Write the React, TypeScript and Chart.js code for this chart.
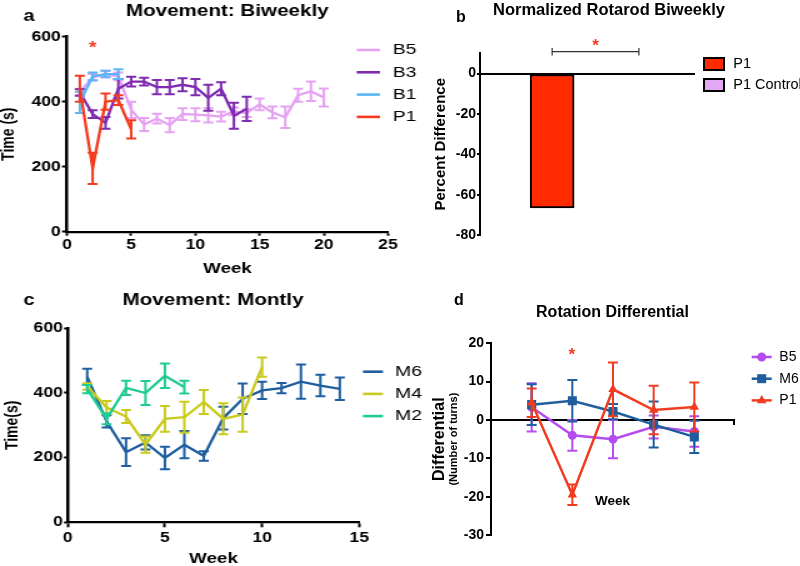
import React, { useEffect, useRef } from "react";
import { Chart, registerables } from "chart.js";
Chart.register(...registerables);

const FONT = "'Liberation Sans', Arial, Helvetica, sans-serif";
Chart.defaults.font.family = FONT;
Chart.defaults.color = "#000";

// ---------------- Panel a: Movement: Biweekly ----------------
const A_LETTER = "a";
const A_TITLE = "Movement: Biweekly";
const A_XTITLE = "Week";
const A_YTITLE = "Time (s)";
const A_SERIES = ["B5", "B3", "B1", "P1"];
const A_B5_WEEK = [1, 2, 3, 4, 5, 6, 7, 8, 9, 10, 11, 12, 13, 14, 15, 16, 17, 18, 19, 20];
const A_B5_MEAN = [430, 475, 485, 478, 375, 330, 348, 328, 362, 360, 358, 354, 370, 365, 392, 367, 352, 420, 432, 413];
const A_B5_ERR = [10, 10, 10, 12, 25, 20, 15, 22, 18, 20, 22, 15, 12, 12, 18, 18, 33, 20, 30, 28];
const A_B3_WEEK = [1, 2, 3, 4, 5, 6, 7, 8, 9, 10, 11, 12, 13, 14];
const A_B3_MEAN = [428, 362, 335, 440, 462, 462, 445, 445, 452, 445, 412, 440, 357, 378];
const A_B3_ERR = [10, 12, 18, 30, 15, 12, 22, 22, 20, 25, 40, 20, 40, 37];
const A_B1_WEEK = [1, 2, 3, 4];
const A_B1_MEAN = [398, 478, 485, 485];
const A_B1_ERR = [33, 12, 10, 15];
const A_P1_WEEK = [1, 2, 3, 4, 5];
const A_P1_MEAN = [440, 195, 400, 405, 315];
const A_P1_ERR = [40, 48, 25, 15, 28];

// ---------------- Panel b: Normalized Rotarod Biweekly ----------------
const B_LETTER = "b";
const B_TITLE = "Normalized Rotarod Biweekly";
const B_YTITLE = "Percent Difference";
const B_CATS = ["P1", "P1 Control"];
const B_VALUES = [-66.5, 0];

// ---------------- Panel c: Movement: Montly ----------------
const C_LETTER = "c";
const C_TITLE = "Movement: Montly";
const C_XTITLE = "Week";
const C_YTITLE = "Time(s)";
const C_SERIES = ["M6", "M4", "M2"];
const C_M6_WEEK = [1, 2, 3, 4, 5, 6, 7, 8, 9, 10, 11, 12, 13, 14];
const C_M6_MEAN = [450, 312, 217, 247, 199, 240, 205, 322, 382, 408, 415, 435, 423, 413];
const C_M6_ERR = [25, 19, 43, 22, 35, 42, 15, 35, 47, 27, 16, 53, 33, 35];
const C_M4_WEEK = [1, 2, 3, 4, 5, 6, 7, 8, 9, 10];
const C_M4_MEAN = [420, 355, 327, 240, 320, 325, 372, 320, 333, 480];
const C_M4_ERR = [10, 20, 20, 25, 40, 48, 37, 48, 53, 30];
const C_M2_WEEK = [1, 2, 3, 4, 5, 6];
const C_M2_MEAN = [412, 320, 416, 400, 453, 418];
const C_M2_ERR = [13, 17, 22, 37, 38, 20];

// ---------------- Panel d: Rotation Differential ----------------
const D_LETTER = "d";
const D_TITLE = "Rotation Differential";
const D_XTITLE = "Week";
const D_YTITLE = "Differential";
const D_YSUBTITLE = "(Number of turns)";
const D_SERIES = ["B5", "M6", "P1"];
const D_WEEK = [1, 2, 3, 4, 5];
const D_B5_MEAN = [3.3, -4, -5, -1.8, -3];
const D_B5_ERR = [6.3, 4, 5, 3, 4];
const D_M6_MEAN = [4, 5, 2.2, -1.2, -4.4];
const D_M6_ERR = [5.3, 5.4, 2, 6, 4.2];
const D_P1_MEAN = [4.5, -19.5, 8, 2.6, 3.4];
const D_P1_ERR = [3.7, 2.7, 7, 6.3, 6.4];

const STAR = "*";

// colours
const COL_A = ["#E6A2F2", "#7E2BB0", "#5BB5F7", "#F23B1F"];
const COL_B = ["#FF2A00", "#E3A8F3"];
const COL_C = ["#1E5E9E", "#CACA1E", "#1ECB92"];
const COL_D = ["#B54CF0", "#1E5E9E", "#F23B1F"];
const STAR_COL = "#F23B1F";

const pts = (xs: number[], ys: number[]) => xs.map((x, i) => ({ x, y: ys[i] }));

const errorBarPlugin = {
  id: "errorBars",
  beforeDatasetDraw(chart: any, args: any) {
    const ds = chart.data.datasets[args.index];
    if (!ds.errors) return;
    const ctx = chart.ctx;
    const xs = chart.scales.x;
    const ys = chart.scales.y;
    const cap = ds.capHalf || 4;
    ctx.save();
    ctx.strokeStyle = ds.borderColor;
    ctx.lineWidth = ds.errorWidth || 2;
    ds.data.forEach((p: any, i: number) => {
      const e = ds.errors[i];
      const x = xs.getPixelForValue(p.x);
      const yt = ys.getPixelForValue(p.y + e);
      const yb = ys.getPixelForValue(p.y - e);
      ctx.beginPath();
      ctx.moveTo(x, yt);
      ctx.lineTo(x, yb);
      ctx.moveTo(x - cap, yt);
      ctx.lineTo(x + cap, yt);
      ctx.moveTo(x - cap, yb);
      ctx.lineTo(x + cap, yb);
      ctx.stroke();
    });
    ctx.restore();
  },
};

function text(
  ctx: CanvasRenderingContext2D,
  s: string,
  x: number,
  y: number,
  size: number,
  weight: string,
  align: CanvasTextAlign = "center",
  color = "#000",
  baseline: CanvasTextBaseline = "alphabetic"
) {
  ctx.font = `${weight} ${size}px ${FONT}`;
  ctx.fillStyle = color;
  ctx.textAlign = align;
  ctx.textBaseline = baseline;
  ctx.fillText(s, x, y);
}

function star(ctx: CanvasRenderingContext2D, cx: number, cy: number, size: number) {
  text(ctx, STAR, cx, cy + 0.57 * size, size, "bold", "center", STAR_COL);
}

function annotate(id: string, draw: (chart: any, ctx: CanvasRenderingContext2D) => void) {
  return {
    id,
    afterDraw(chart: any) {
      const ctx = chart.ctx;
      ctx.save();
      draw(chart, ctx);
      ctx.restore();
    },
  };
}

const bold = (size: number) => ({ family: FONT, size, weight: "bold" as const });

function axisCommon(tickLen: number, width: number) {
  return {
    grid: { display: true, drawOnChartArea: false, drawTicks: true, tickLength: tickLen, tickColor: "#000", tickWidth: 2 },
    border: { display: true, color: "#000", width },
  };
}

const STRETCH = 1.25;
const WIDE_W = 352; // internal width of stretched canvases (440 css px)

// ---------- panel a config (stretched 1.25x) ----------
function buildA(): any {
  const W = WIDE_W;
  const left = 53.6, right = 310.4, top = 36.7, bottom = 231.7;
  const sets = [
    [A_B5_WEEK, A_B5_MEAN, A_B5_ERR],
    [A_B3_WEEK, A_B3_MEAN, A_B3_ERR],
    [A_B1_WEEK, A_B1_MEAN, A_B1_ERR],
    [A_P1_WEEK, A_P1_MEAN, A_P1_ERR],
  ];
  return {
    type: "line",
    data: {
      datasets: sets.map((s, i) => ({
        label: A_SERIES[i],
        data: pts(s[0], s[1]),
        errors: s[2],
        borderColor: COL_A[i],
        backgroundColor: COL_A[i],
        borderWidth: 2.3,
        pointRadius: 0,
        capHalf: 4,
        errorWidth: 2,
        order: 4 - i,
      })),
    },
    options: {
      animation: false,
      responsive: false,
      layout: { padding: { left: 0, right: W - right, top, bottom: 0 } },
      plugins: { legend: { display: false }, title: { display: false }, tooltip: { enabled: false } },
      scales: {
        x: {
          type: "linear",
          min: 0,
          max: 25,
          ticks: { stepSize: 5, font: bold(14), color: "#000", padding: 1, maxRotation: 0 },
          ...axisCommon(4, 2.3),
          title: { display: true, text: A_XTITLE, font: bold(15), color: "#000", padding: { top: 0, bottom: 5 } },
          afterFit: (s: any) => { s.height = 283 - bottom; },
        },
        y: {
          type: "linear",
          min: 0,
          max: 600,
          ticks: { stepSize: 200, font: bold(14), color: "#000", padding: 1 },
          ...axisCommon(4, 2.5),
          title: { display: true, text: A_YTITLE, font: bold(14), color: "#000", padding: { top: -1.5, bottom: 0 } },
          afterFit: (s: any) => { s.width = left; },
        },
      },
    },
    plugins: [
      errorBarPlugin,
      annotate("annA", (chart, ctx) => {
        text(ctx, A_LETTER, 23.2, 20.7, 16, "bold");
        text(ctx, A_TITLE, 181.8, 16, 16.5, "bold");
        star(ctx, 74, 44, 16);
        chart.data.datasets.forEach((ds: any, i: number) => {
          const y = 50 + 22.3 * i;
          ctx.strokeStyle = ds.borderColor;
          ctx.lineWidth = 2.6;
          ctx.beginPath();
          ctx.moveTo(285.4, y);
          ctx.lineTo(304, y);
          ctx.stroke();
          text(ctx, ds.label, 314.2, y, 15.5, "normal", "left", "#000", "middle");
        });
      }),
    ],
  };
}

// ---------- panel b ----------
function buildB(): any {
  const W = 400;
  const left = 80, right = 295, top = 53.3, bottom = 235.3;
  return {
    type: "bar",
    data: {
      datasets: [
        {
          label: B_TITLE,
          data: B_VALUES.map((v, i) => ({ x: i + 1, y: v })),
          backgroundColor: COL_B,
          borderColor: "#000",
          borderWidth: 2,
          borderSkipped: false,
          barThickness: 44,
        },
      ],
    },
    options: {
      animation: false,
      responsive: false,
      layout: { padding: { left: 0, right: W - right, top, bottom: 283 - bottom } },
      plugins: { legend: { display: false }, title: { display: false }, tooltip: { enabled: false } },
      scales: {
        x: { type: "linear", min: 0.375, max: 2.44, bounds: "data", display: false },
        y: {
          type: "linear",
          min: -80,
          max: 10,
          bounds: "data",
          ticks: { stepSize: 20, font: bold(14), color: "#000", padding: 1 },
          afterBuildTicks: (s: any) => { s.ticks = s.ticks.filter((t: any) => t.value <= 0); },
          grid: {
            display: true,
            drawOnChartArea: true,
            drawTicks: true,
            tickLength: 3,
            tickColor: "#000",
            tickWidth: 2,
            lineWidth: 2,
            color: (c: any) => (c.tick && c.tick.value === 0 ? "#000" : "rgba(0,0,0,0)"),
          },
          border: { display: true, color: "#000", width: 2 },
          title: { display: true, text: B_YTITLE, font: bold(15), color: "#000", padding: { top: 32.3, bottom: 0 } },
          afterFit: (s: any) => { s.width = left; },
        },
      },
    },
    plugins: [
      annotate("annB", (chart, ctx) => {
        text(ctx, B_LETTER, 61, 21.7, 16, "bold");
        text(ctx, B_TITLE, 209, 15, 16.5, "bold");
        // significance bracket between the two categories
        const xs = chart.scales.x;
        const x1 = xs.getPixelForValue(1);
        const x2 = xs.getPixelForValue(2);
        ctx.strokeStyle = "#333";
        ctx.lineWidth = 1.2;
        ctx.beginPath();
        ctx.moveTo(x1, 51.7);
        ctx.lineTo(x2, 51.7);
        ctx.moveTo(x1, 48);
        ctx.lineTo(x1, 55.4);
        ctx.moveTo(x2, 48);
        ctx.lineTo(x2, 55.4);
        ctx.stroke();
        star(ctx, (x1 + x2) / 2, 41, 17);
        // legend
        B_CATS.forEach((c, i) => {
          const y = 64 + 21 * i;
          ctx.fillStyle = COL_B[i];
          ctx.fillRect(304, y - 6, 20, 12);
          ctx.strokeStyle = "#000";
          ctx.lineWidth = 2;
          ctx.strokeRect(304, y - 6, 20, 12);
          text(ctx, c, 333.3, y, 14.5, "normal", "left", "#000", "middle");
        });
      }),
    ],
  };
}

// ---------- panel c (stretched 1.25x) ----------
function buildC(): any {
  const W = WIDE_W;
  const left = 54.2, right = 287.4, top = 45.3, bottom = 239.3;
  const sets = [
    [C_M6_WEEK, C_M6_MEAN, C_M6_ERR],
    [C_M4_WEEK, C_M4_MEAN, C_M4_ERR],
    [C_M2_WEEK, C_M2_MEAN, C_M2_ERR],
  ];
  return {
    type: "line",
    data: {
      datasets: sets.map((s, i) => ({
        label: C_SERIES[i],
        data: pts(s[0], s[1]),
        errors: s[2],
        borderColor: COL_C[i],
        backgroundColor: COL_C[i],
        borderWidth: 2.3,
        pointRadius: 0,
        capHalf: 4,
        errorWidth: 2,
        order: 3 - i,
      })),
    },
    options: {
      animation: false,
      responsive: false,
      layout: { padding: { left: 0, right: W - right, top, bottom: 0 } },
      plugins: { legend: { display: false }, title: { display: false }, tooltip: { enabled: false } },
      scales: {
        x: {
          type: "linear",
          min: 0,
          max: 15,
          ticks: { stepSize: 5, font: bold(14), color: "#000", padding: 2, maxRotation: 0 },
          ...axisCommon(5, 2.3),
          title: { display: true, text: C_XTITLE, font: bold(15), color: "#000", padding: { top: 0, bottom: -2 } },
          afterFit: (s: any) => { s.height = 283 - bottom; },
        },
        y: {
          type: "linear",
          min: 0,
          max: 600,
          ticks: { stepSize: 200, font: bold(14), color: "#000", padding: 1 },
          ...axisCommon(3, 2.5),
          title: { display: true, text: C_YTITLE, font: bold(14), color: "#000", padding: { top: 1.5, bottom: 0 } },
          afterFit: (s: any) => { s.width = left; },
        },
      },
    },
    plugins: [
      errorBarPlugin,
      annotate("annC", (chart, ctx) => {
        text(ctx, C_LETTER, 23.2, 22, 16, "bold");
        text(ctx, C_TITLE, 170.4, 22, 16.5, "bold");
        chart.data.datasets.forEach((ds: any, i: number) => {
          const y = 88.7 + 22.2 * i;
          ctx.strokeStyle = ds.borderColor;
          ctx.lineWidth = 2.6;
          ctx.beginPath();
          ctx.moveTo(290.4, y);
          ctx.lineTo(306.4, y);
          ctx.stroke();
          text(ctx, ds.label, 316, y, 15.5, "normal", "left", "#000", "middle");
        });
      }),
    ],
  };
}

// ---------- panel d ----------
function drawMarker(ctx: CanvasRenderingContext2D, style: string, x: number, y: number, color: string) {
  ctx.fillStyle = color;
  ctx.beginPath();
  if (style === "circle") {
    ctx.arc(x, y, 4.5, 0, Math.PI * 2);
  } else if (style === "rect") {
    ctx.rect(x - 4.5, y - 4.5, 9, 9);
  } else {
    const r = 5.5;
    ctx.moveTo(x, y - r);
    ctx.lineTo(x + r * 0.866, y + r * 0.5);
    ctx.lineTo(x - r * 0.866, y + r * 0.5);
    ctx.closePath();
  }
  ctx.fill();
}

function buildD(): any {
  const W = 400;
  const left = 91, right = 335, top = 60.3, bottom = 252;
  const sets = [
    [D_B5_MEAN, D_B5_ERR, "circle", 4.5],
    [D_M6_MEAN, D_M6_ERR, "rect", 6.4],
    [D_P1_MEAN, D_P1_ERR, "triangle", 5.5],
  ] as any[];
  return {
    type: "line",
    data: {
      datasets: sets.map((s, i) => ({
        label: D_SERIES[i],
        data: pts(D_WEEK, s[0]),
        errors: s[1],
        pointStyle: s[2],
        pointRadius: s[3],
        borderColor: COL_D[i],
        backgroundColor: COL_D[i],
        pointBackgroundColor: COL_D[i],
        pointBorderColor: COL_D[i],
        pointBorderWidth: 0,
        borderWidth: 2.5,
        capHalf: 5,
        errorWidth: 2,
        order: 3 - i,
      })),
    },
    options: {
      animation: false,
      responsive: false,
      layout: { padding: { left: 0, right: W - right, top, bottom: 283 - bottom } },
      plugins: { legend: { display: false }, title: { display: false }, tooltip: { enabled: false } },
      scales: {
        x: { type: "linear", min: 0, max: 6, bounds: "data", display: false },
        y: {
          type: "linear",
          min: -30,
          max: 20,
          ticks: { stepSize: 10, font: bold(14), color: "#000", padding: 2 },
          grid: {
            display: true,
            drawOnChartArea: true,
            drawTicks: true,
            tickLength: 5,
            tickColor: "#000",
            tickWidth: 2,
            lineWidth: 2,
            color: (c: any) => (c.tick && c.tick.value === 0 ? "#000" : "rgba(0,0,0,0)"),
          },
          border: { display: true, color: "#000", width: 2 },
          afterFit: (s: any) => { s.width = left; },
        },
      },
    },
    plugins: [
      errorBarPlugin,
      annotate("annD", (chart, ctx) => {
        text(ctx, D_LETTER, 59, 22, 16, "bold");
        text(ctx, D_TITLE, 212.5, 33.7, 16, "bold");
        star(ctx, 171.7, 67, 17);
        text(ctx, D_XTITLE, 212.5, 222, 13.5, "bold");
        // small end tick of the x axis (drawn at y = 0)
        const ca = chart.chartArea;
        const y0 = chart.scales.y.getPixelForValue(0);
        ctx.strokeStyle = "#000";
        ctx.lineWidth = 2;
        ctx.beginPath();
        ctx.moveTo(ca.right - 1, y0);
        ctx.lineTo(ca.right - 1, y0 + 5);
        ctx.stroke();
        const cy = (ca.top + ca.bottom) / 2;
        ctx.save();
        ctx.translate(40, cy);
        ctx.rotate(-Math.PI / 2);
        text(ctx, D_YTITLE, 0, 0, 16, "bold", "center", "#000", "middle");
        ctx.restore();
        ctx.save();
        ctx.translate(53.5, cy);
        ctx.rotate(-Math.PI / 2);
        text(ctx, D_YSUBTITLE, 0, 0, 11, "bold", "center", "#000", "middle");
        ctx.restore();
        chart.data.datasets.forEach((ds: any, i: number) => {
          const y = 74 + 21.7 * i;
          ctx.strokeStyle = ds.borderColor;
          ctx.lineWidth = 2.5;
          ctx.beginPath();
          ctx.moveTo(351.7, y);
          ctx.lineTo(371.7, y);
          ctx.stroke();
          drawMarker(ctx, ds.pointStyle, 361.7, y, ds.borderColor);
          text(ctx, ds.label, 379.3, y, 14, "normal", "left", "#000", "middle");
        });
      }),
    ],
  };
}

function Panel({ left, top, width, stretch, build }: { left: number; top: number; width: number; stretch: number; build: () => any }) {
  const ref = useRef<HTMLCanvasElement>(null);
  useEffect(() => {
    const chart = new Chart(ref.current as HTMLCanvasElement, build());
    return () => chart.destroy();
  }, []);
  return (
    <div
      style={{
        position: "absolute",
        left,
        top,
        width,
        height: 283,
        transform: `scaleX(${stretch})`,
        transformOrigin: "0 0",
      }}
    >
      <canvas ref={ref} width={width} height={283} />
    </div>
  );
}

export default function App() {
  return (
    <div style={{ position: "absolute", left: 0, top: 0, width: 800, height: 566, background: "#fff", overflow: "hidden" }}>
      <Panel left={400} top={0} width={400} stretch={1} build={buildB} />
      <Panel left={400} top={283} width={400} stretch={1} build={buildD} />
      <Panel left={0} top={0} width={WIDE_W} stretch={STRETCH} build={buildA} />
      <Panel left={0} top={283} width={WIDE_W} stretch={STRETCH} build={buildC} />
    </div>
  );
}
